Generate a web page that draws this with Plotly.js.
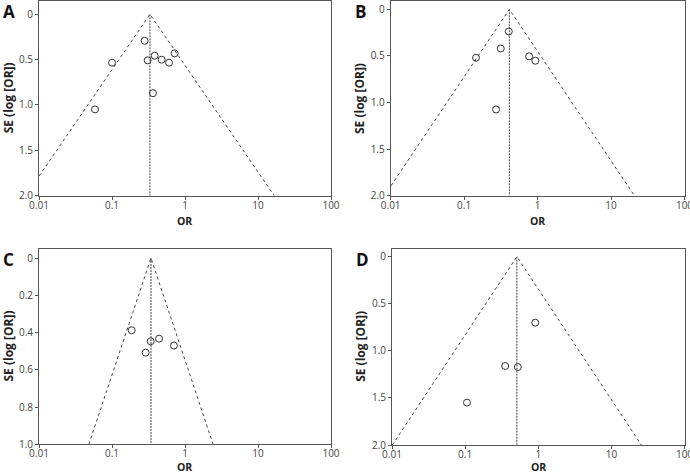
<!DOCTYPE html>
<html><head><meta charset="utf-8">
<script src="https://cdn.plot.ly/plotly-3.0.1.min.js"></script>
<style>html,body{margin:0;padding:0;background:#fff}#chart{width:690px;height:473px}</style>
</head><body><div id="chart"></div>
<script>
// Panel A
const orA = [0.280, 0.100, 0.308, 0.384, 0.479, 0.604, 0.721, 0.364, 0.0585];
const seA = [0.293, 0.534, 0.508, 0.457, 0.501, 0.534, 0.431, 0.870, 1.049];
const pooledA = 0.331;
// Panel B
const orB = [0.405, 0.315, 0.145, 0.766, 0.933, 0.272];
const seB = [0.238, 0.420, 0.520, 0.505, 0.552, 1.075];
const pooledB = 0.413;
// Panel C
const orC = [0.186, 0.339, 0.441, 0.289, 0.706];
const seC = [0.388, 0.447, 0.433, 0.508, 0.470];
const pooledC = 0.342;
// Panel D
const orD = [0.91, 0.353, 0.526, 0.106];
const seD = [0.701, 1.161, 1.172, 1.550];
const pooledD = 0.51;

const panelLabels = ['A', 'B', 'C', 'D'];
const xTickVals = [0.01, 0.1, 1, 10, 100];
const xTickText = ['0.01', '0.1', '1', '10', '100'];
const yTicks2 = [0, 0.5, 1.0, 1.5, 2.0];
const yTicks2Text = ['0', '0.5', '1.0', '1.5', '2.0'];
const yTicks1 = [0, 0.2, 0.4, 0.6, 0.8, 1.0];
const yTicks1Text = ['0', '0.2', '0.4', '0.6', '0.8', '1.0'];
const seMax = [2, 2, 1, 2];
const z = 1.96;

const panels = [
  {or: orA, se: seA, pooled: pooledA},
  {or: orB, se: seB, pooled: pooledB},
  {or: orC, se: seC, pooled: pooledC},
  {or: orD, se: seD, pooled: pooledD}
];

const W = 690, H = 473;
const geo = [
  {l: 39, r: 331, t: 1, b: 195.7, ytop: -0.146, orY: 221},
  {l: 390.7, r: 684.5, t: 1, b: 195.7, ytop: -0.089, orY: 221},
  {l: 39, r: 331, t: 248.7, b: 444.3, ytop: -0.05, orY: 466.5},
  {l: 392, r: 684.5, t: 248.7, b: 445, ytop: -0.085, orY: 466.5}
];

const lineCol = '#444';
const traces = [];
const layout = {
  width: W, height: H,
  margin: {l: 0, r: 0, t: 0, b: 0},
  paper_bgcolor: '#fff', plot_bgcolor: '#fff',
  showlegend: false,
  font: {family: 'Open Sans, sans-serif', color: '#333', size: 10},
  annotations: []
};

panels.forEach((p, i) => {
  const sfx = i === 0 ? '' : String(i + 1);
  const xa = 'x' + sfx, ya = 'y' + sfx;
  const m = seMax[i];
  // funnel (95% pseudo-confidence limits)
  traces.push({
    x: [p.pooled * Math.exp(-z * m), p.pooled, p.pooled * Math.exp(z * m)],
    y: [m, 0, m], xaxis: xa, yaxis: ya, mode: 'lines',
    line: {color: lineCol, width: 1, dash: 'dot'}, hoverinfo: 'skip'
  });
  traces.push({
    x: [p.pooled, p.pooled], y: [0, m], xaxis: xa, yaxis: ya, mode: 'lines',
    line: {color: lineCol, width: 1, dash: '2px,1px'}, hoverinfo: 'skip'
  });
  traces.push({
    x: p.or, y: p.se, xaxis: xa, yaxis: ya, mode: 'markers',
    marker: {symbol: 'circle-open', size: 7, color: '#333', line: {width: 1, color: '#333'}}
  });
  const g = geo[i];
  const xd = [g.l / W, g.r / W];
  const yd = [1 - g.b / H, 1 - g.t / H];
  layout['xaxis' + sfx] = {
    type: 'log', domain: xd, range: [-2, 2], anchor: ya,
    tickvals: xTickVals, ticktext: xTickText, ticklabeloverflow: 'allow',
    ticklabelstandoff: -3,
    showline: true, mirror: true, linecolor: '#555', linewidth: 1,
    ticks: 'outside', ticklen: 3, tickcolor: '#555', showgrid: false, zeroline: false,
    tickfont: {size: 10, color: '#444'}
  };
  layout['yaxis' + sfx] = {
    domain: yd, range: [m, g.ytop], anchor: xa,
    tickvals: m === 1 ? yTicks1 : yTicks2, ticktext: m === 1 ? yTicks1Text : yTicks2Text,
    showline: true, mirror: true, linecolor: '#555', linewidth: 1,
    ticks: 'outside', ticklen: 3, tickcolor: '#555', showgrid: false, zeroline: false,
    tickfont: {size: 10, color: '#444'}
  };
  // axis titles
  layout.annotations.push({
    text: '<b>OR</b>', xref: 'paper', yref: 'paper',
    x: (xd[0] + xd[1]) / 2, y: 1 - g.orY / H, xanchor: 'center', yanchor: 'middle',
    showarrow: false, font: {size: 10.5, color: '#222'}
  });
  layout.annotations.push({
    text: '<b>SE (log [OR])</b>', xref: 'paper', yref: 'paper', textangle: -90,
    x: (g.l - 31) / W, y: (yd[0] + yd[1]) / 2, xanchor: 'center', yanchor: 'middle',
    showarrow: false, font: {size: 12, color: '#222'}
  });
  layout.annotations.push({
    text: '<b>' + panelLabels[i] + '</b>', xref: 'paper', yref: 'paper',
    x: (g.l - 38) / W, y: 1 - (g.t + 11) / H, xanchor: 'left', yanchor: 'middle',
    showarrow: false, font: {size: 17, color: '#111'}
  });
});

Plotly.newPlot('chart', traces, layout, {displayModeBar: false, staticPlot: true});
</script></body></html>
